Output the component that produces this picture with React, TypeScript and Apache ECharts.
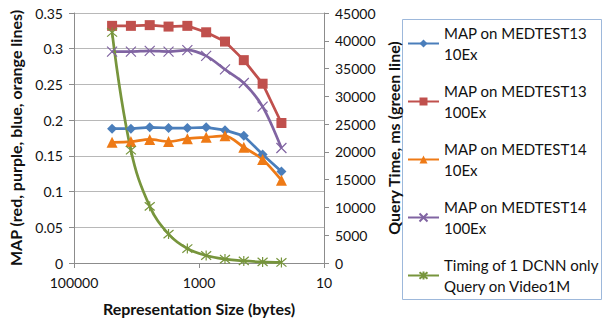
import React, { useEffect, useRef } from "react";
import * as echarts from "echarts";

const sizes = [24576, 12288, 6144, 3072, 1536, 768, 384, 192, 96, 48];
const map13_10Ex = [0.188, 0.188, 0.19, 0.189, 0.189, 0.19, 0.186, 0.178, 0.152, 0.128];
const map13_100Ex = [0.332, 0.332, 0.333, 0.331, 0.332, 0.323, 0.31, 0.284, 0.251, 0.196];
const map14_10Ex = [0.169, 0.17, 0.173, 0.17, 0.174, 0.176, 0.178, 0.162, 0.145, 0.116];
const map14_100Ex = [0.296, 0.296, 0.297, 0.296, 0.298, 0.29, 0.271, 0.252, 0.219, 0.161];
const timingMs = [41500, 20300, 10200, 5200, 2600, 1350, 700, 380, 200, 100];

const seriesNames = [
  "MAP on MEDTEST13\n10Ex",
  "MAP on MEDTEST13\n100Ex",
  "MAP on MEDTEST14\n10Ex",
  "MAP on MEDTEST14\n100Ex",
  "Timing of 1 DCNN only\nQuery on Video1M",
];

const FONT = "Lato";
const TXT = "#111";
const GRIDC = "#b8b8b8";
const AXISC = "#8c8c8c";

const pair = (vals: number[]) => sizes.map((s, i) => [s, vals[i]]);

export default function App() {
  const ref = useRef<HTMLDivElement>(null);
  useEffect(() => {
    if (!ref.current) return;
    const chart = echarts.init(ref.current, null, { renderer: "svg" });
    const crossPath = "path://M0,0L10,10M10,0L0,10";
    const starPath = "path://M0,0L10,10M10,0L0,10M5,-1L5,11";
    const nameStyle = { fontFamily: FONT, fontSize: 16, fontWeight: "bold", color: TXT };
    chart.setOption({
      animation: false,
      textStyle: { fontFamily: FONT },
      grid: { left: 74, top: 13, width: 250, height: 250 },
      legend: {
        orient: "vertical",
        left: 407,
        top: 12,
        padding: 0,
        itemWidth: 31,
        itemHeight: 10,
        itemGap: -5,
        textStyle: {
          fontFamily: FONT,
          fontSize: 15,
          color: TXT,
          lineHeight: 21,
          padding: [21, 0, 0, 0],
        },
        data: seriesNames,
      },
      graphic: [
        {
          type: "rect",
          shape: { x: 402.5, y: 19.5, width: 199, height: 280 },
          style: { fill: "none", stroke: "#9DB8DB", lineWidth: 1 },
          silent: true,
        },
      ],
      xAxis: {
        type: "log",
        logBase: 10,
        min: 10,
        max: 100000,
        interval: 2,
        inverse: true,
        name: "Representation Size (bytes)",
        nameLocation: "middle",
        nameGap: 37,
        nameTextStyle: nameStyle,
        axisLine: { show: true, lineStyle: { color: AXISC, width: 1 } },
        axisTick: { show: true, inside: false, length: 5, lineStyle: { color: AXISC } },
        minorTick: { show: false },
        splitLine: { show: false },
        axisLabel: {
          fontFamily: FONT,
          fontSize: 14,
          color: TXT,
          margin: 12,
          formatter: (v: number) => String(Math.round(v)),
        },
      },
      yAxis: [
        {
          type: "value",
          min: 0,
          max: 0.35,
          interval: 0.05,
          name: "MAP (red, purple, blue, orange lines)",
          nameLocation: "middle",
          nameGap: 51,
          nameTextStyle: nameStyle,
          axisLine: { show: true, lineStyle: { color: AXISC } },
          axisTick: { show: true, inside: false, length: 5, lineStyle: { color: AXISC } },
          splitLine: { show: true, lineStyle: { color: GRIDC, width: 1 } },
          axisLabel: { fontFamily: FONT, fontSize: 14, color: TXT, margin: 11 },
        },
        {
          type: "value",
          position: "right",
          min: 0,
          max: 45000,
          interval: 5000,
          name: "Query Time, ms (green line)",
          nameLocation: "middle",
          nameRotate: 90,
          nameGap: 61,
          nameTextStyle: nameStyle,
          axisLine: { show: true, lineStyle: { color: AXISC } },
          axisTick: { show: true, inside: false, length: 5, lineStyle: { color: AXISC } },
          splitLine: { show: false },
          axisLabel: {
            fontFamily: FONT,
            fontSize: 14,
            color: TXT,
            margin: 11,
            formatter: (v: number) => String(v),
          },
        },
      ],
      series: [
        {
          name: seriesNames[0],
          type: "line",
          data: pair(map13_10Ex),
          symbol: "diamond",
          symbolSize: 10,
          lineStyle: { color: "#4A7EBB", width: 2.75 },
          itemStyle: { color: "#4A7EBB" },
        },
        {
          name: seriesNames[1],
          type: "line",
          data: pair(map13_100Ex),
          symbol: "rect",
          symbolSize: 10,
          lineStyle: { color: "#C0504D", width: 2.75 },
          itemStyle: { color: "#C0504D" },
        },
        {
          name: seriesNames[2],
          type: "line",
          data: pair(map14_10Ex),
          smooth: 0.3,
          symbol: "triangle",
          symbolSize: 11,
          lineStyle: { color: "#EE7A16", width: 2.75 },
          itemStyle: { color: "#EE7A16" },
        },
        {
          name: seriesNames[3],
          type: "line",
          data: pair(map14_100Ex),
          smooth: 0.3,
          symbol: crossPath,
          symbolSize: 10,
          lineStyle: { color: "#8064A2", width: 2.75 },
          itemStyle: { color: "#8064A2", borderColor: "#8064A2", borderWidth: 1.2 },
        },
        {
          name: seriesNames[4],
          type: "line",
          yAxisIndex: 1,
          data: pair(timingMs),
          smooth: 0.4,
          symbol: starPath,
          symbolSize: 10,
          lineStyle: { color: "#77953C", width: 2.75 },
          itemStyle: { color: "#77953C", borderColor: "#77953C", borderWidth: 1.2 },
        },
      ],
    });
    return () => chart.dispose();
  }, []);
  return (
    <div
      ref={ref}
      style={{ position: "absolute", left: 0, top: 0, width: 602, height: 325, background: "#fff" }}
    />
  );
}
